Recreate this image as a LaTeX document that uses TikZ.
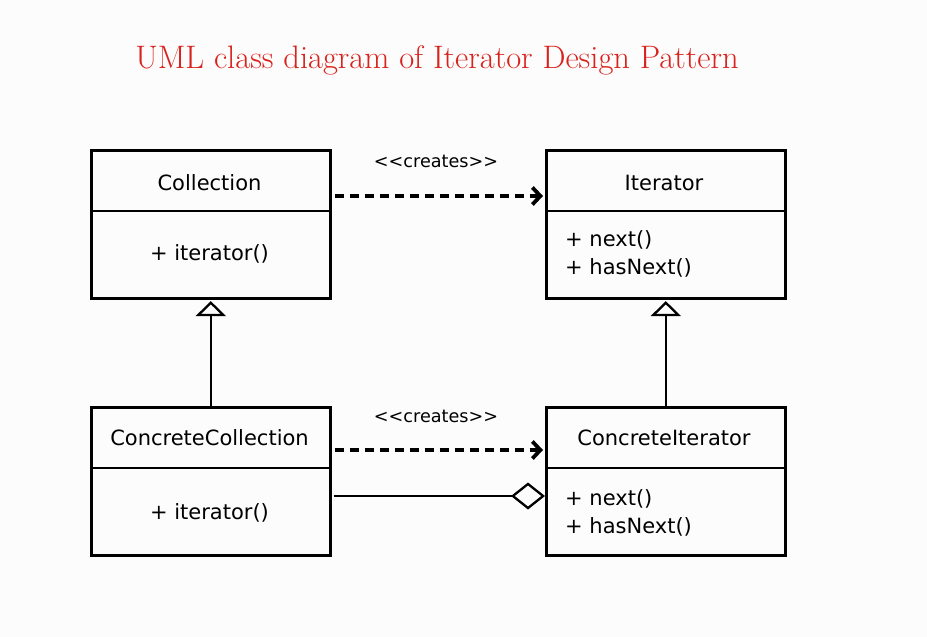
\documentclass[tikz,border=0pt]{standalone}
\usepackage{fontspec}
\newfontfamily\uisans{DejaVu Sans}
\usetikzlibrary{arrows.meta}
\definecolor{titlered}{RGB}{218,34,28}
\definecolor{bgc}{RGB}{252,252,252}
\tikzset{
  classbox/.style={draw=black, line width=2.6pt, rectangle, minimum width=239pt, minimum height=148pt, anchor=north west, inner sep=0pt},
  divider/.style={line width=2.3pt},
  lbl/.style={font=\uisans\fontsize{21}{24}\selectfont, inner sep=0pt},
  ops/.style={font=\uisans\fontsize{21}{28}\selectfont, inner sep=0pt, align=left, anchor=west},
  stereo/.style={font=\uisans\fontsize{17.6}{20}\selectfont, inner sep=0pt},
  dep/.style={line width=3.8pt, dash pattern=on 9pt off 6pt, -{Straight Barb[length=8pt,width=17pt,line width=3.8pt]}},
  inherit/.style={line width=2.3pt, -{Triangle[open,length=15pt,width=30pt,line width=2.3pt]}},
  aggr/.style={line width=2.3pt, -{Diamond[open,length=34pt,width=27pt,line width=2.3pt]}}
}
\begin{document}
\begin{tikzpicture}[x=1pt,y=-1pt]
\fill[bgc] (0,0) rectangle (927,637);
\useasboundingbox (0,0) rectangle (927,637);

\node[font=\fontsize{32.5}{38}\selectfont, text=titlered, inner sep=0pt] (title) at (437,60) {UML class diagram of Iterator Design Pattern};

% boxes
\node[classbox] (coll) at (90,149) {};
\node[classbox] (iter) at (545,149) {};
\node[classbox] (ccoll) at (90,406) {};
\node[classbox] (citer) at (545,406) {};

\foreach \b in {coll,iter,ccoll,citer}
  \draw[divider] ([yshift=-62pt]\b.north west) -- ([yshift=-62pt]\b.north east);

% texts
\node[lbl] (collname) at (209.5,183) {Collection};
\node[lbl] (collop) at (209.5,254) {+ iterator()};
\node[lbl] (itername) at (664,183) {Iterator};
\node[ops] (iterops) at (565,254) {+ next()\\+ hasNext()};
\node[lbl] (ccollname) at (209.5,438) {ConcreteCollection};
\node[lbl] (ccollop) at (209.5,513) {+ iterator()};
\node[lbl] (citername) at (664,438) {ConcreteIterator};
\node[ops] (citerops) at (565,513) {+ next()\\+ hasNext()};

\node[stereo] (cr1) at (436,161) {<\kern0pt<creates>\kern0pt>};
\node[stereo] (cr2) at (436,416) {<\kern0pt<creates>\kern0pt>};

% connectors
\draw[dep] ([shift={(3pt,-47pt)}]coll.north east) -- ([shift={(-2pt,-47pt)}]iter.north west);
\draw[dep] ([shift={(3pt,-44pt)}]ccoll.north east) -- ([shift={(-2pt,-44pt)}]citer.north west);
\draw[inherit] (ccoll.north) -- ([yshift=-1.5pt]coll.south);
\draw[inherit] (citer.north) -- ([yshift=-1.5pt]iter.south);
\draw[aggr] ([shift={(2pt,-90pt)}]ccoll.north east) -- ([yshift=-90pt]citer.north west);
\end{tikzpicture}
\end{document}
